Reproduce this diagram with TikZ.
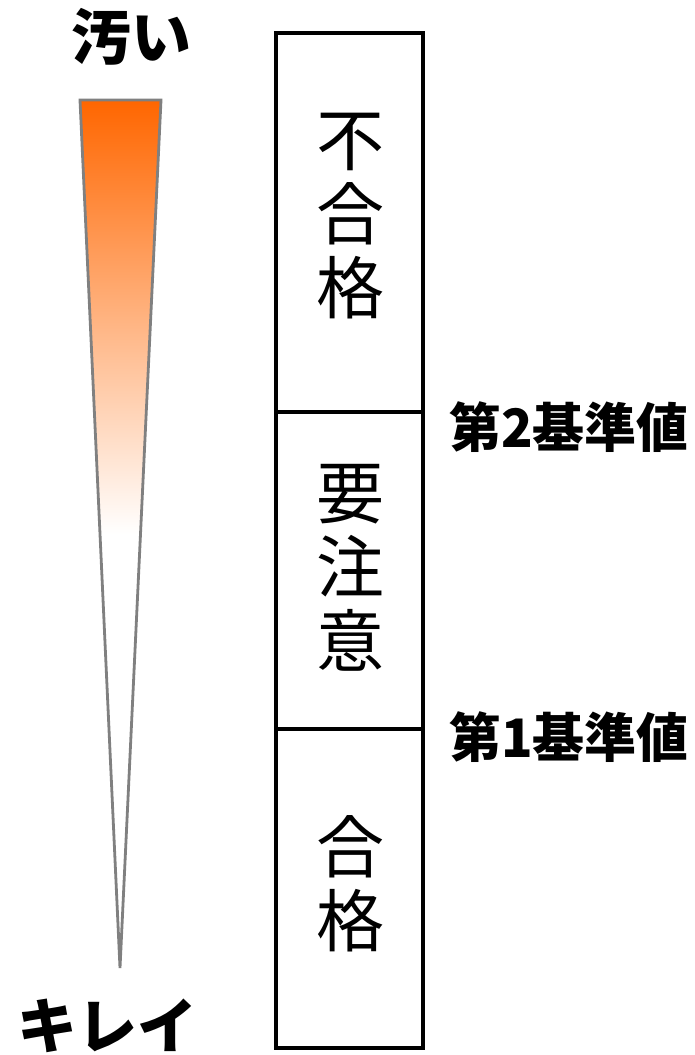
\documentclass[tikz,border=0pt]{standalone}
\usepackage{fontspec}
\newfontfamily\jp{Noto Sans CJK JP}
\definecolor{hot}{RGB}{255,102,0}
\definecolor{edge}{RGB}{128,128,128}
\begin{document}
\begin{tikzpicture}[x=1pt,y=-1pt,
  seg/.style={draw=black, line width=3.2pt, minimum width=147pt, inner sep=0pt, outer sep=0pt},
  big/.style={font=\jp\fontsize{68}{74}\selectfont, align=center, inner sep=0pt},
  lab/.style={font=\jp\bfseries\fontsize{60}{62}\selectfont, inner sep=0pt},
  thr/.style={font=\jp\bfseries\fontsize{53}{56}\selectfont, inner sep=0pt, xscale=0.98}]
\useasboundingbox[fill=white] (0,0) rectangle (694,1055);
% gradient wedge
\shade[top color=hot, bottom color=white, middle color=white, draw=edge, line width=2.8pt]
  (80,100) -- (161,100) -- (120,968) -- cycle;
% column
\node[seg, minimum height=379pt] (ng) at (349.5,222.5) {};
\node[seg, minimum height=317pt] (wc) at (349.5,570.5) {};
\node[seg, minimum height=319pt] (ok) at (349.5,888.5) {};
\node[big] (tng) at (350,216) {不\\合\\格};
\node[big] (twc) at (350,568) {要\\注\\意};
\node[big] (tok) at (350,884) {合\\格};
% labels
\node[lab] (dirty) at (131,37) {汚い};
\node[lab] (clean) at (107,1026) {キレイ};
\node[thr, anchor=east] (th2) at (689,427) {第2基準値};
\node[thr, anchor=east] (th1) at (689,737) {第1基準値};
\end{tikzpicture}
\end{document}
